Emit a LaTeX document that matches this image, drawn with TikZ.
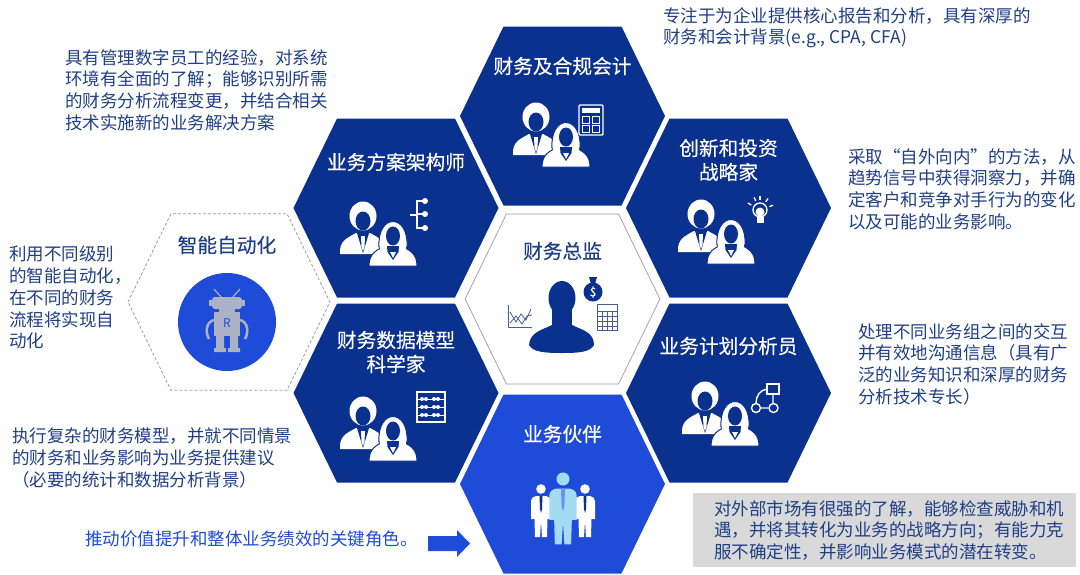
\documentclass[tikz,border=0pt]{standalone}
\usepackage{fontspec}
\setmainfont{Noto Sans CJK SC}
\newfontfamily\titlefont[FakeBold=0.25]{Noto Sans CJK SC}
\usetikzlibrary{positioning}
\definecolor{cellNavy}{HTML}{0B318F}
\definecolor{cellBlue}{HTML}{1E4BD8}
\definecolor{noteInk}{HTML}{1F3F86}
\definecolor{noteGrey}{HTML}{D9D9D9}
\definecolor{frameGrey}{HTML}{9A9AA8}
\definecolor{robotGrey}{HTML}{ABB2C6}
\definecolor{suitLight}{HTML}{A3DCF2}
\definecolor{chartInk}{HTML}{4A5F8E}
\tikzset{
  note/.style={anchor=north west,inner sep=0pt,text=noteInk,align=left,font=\fontsize{17.5}{21.7}\selectfont},
  celltitle/.style={inner sep=0pt,text=white,align=center,font=\titlefont\fontsize{19.7}{24}\selectfont},
  darktitle/.style={celltitle,text=noteInk},
  pics/hexcell/.style={code={
    \path[pic actions] (-102.5,0) -- (-59,-89.5) -- (59,-89.5) -- (102.5,0) -- (59,89.5) -- (-59,89.5) -- cycle;
  }},
  pics/staffpair/.style={code={
    % man
    \fill[white] (0,-1) ellipse (13.5 and 14.5);
    \fill[cellNavy] (0,4) ellipse (7.5 and 9.5);
    \fill[white] (-23,37) .. controls (-24,24) and (-16,21) .. (-7,16) -- (7,16) .. controls (16,21) and (24,24) .. (23,37) -- cycle;
    \fill[cellNavy] (-6,16) -- (6,16) -- (0,36) -- cycle;
    \fill[white] (-2,19) -- (2,19) -- (1.5,30) -- (0,34) -- (-1.5,30) -- cycle;
    % woman
    \begin{scope}[shift={(30,16)}]
      \filldraw[white,draw=cellNavy,line width=1pt] (-14,14) .. controls (-16,-20) and (16,-20) .. (14,14) -- cycle;
      \filldraw[white,draw=cellNavy,line width=1pt] (-24,33) .. controls (-24,20) and (-16,17) .. (-8,13) -- (8,13) .. controls (16,17) and (24,20) .. (24,33) -- cycle;
      \fill[white] (-13,6) rectangle (13,16);
      \fill[cellNavy] (0,3) ellipse (7 and 9.5);
      \fill[cellNavy] (-6,13) -- (6,13) -- (5.5,19) -- (0,27) -- (-5.5,19) -- cycle;
      \fill[white] (-3,19) -- (3,19) -- (0,25) -- cycle;
    \end{scope}
  }},
  pics/suit/.style={code={
    \fill[pic actions] (0,0) circle (4.8);
    \fill[pic actions] (-10,12) .. controls (-10,9) and (-8,8) .. (-5,7) -- (5,7) .. controls (8,8) and (10,9) .. (10,12) -- (10,30) -- (6.5,30) -- (6,48) -- (1,48) -- (0,32) -- (-1,48) -- (-6,48) -- (-6.5,30) -- (-10,30) -- cycle;
    \fill[suit tie] (-1.5,7) -- (1.5,7) -- (1,20) -- (0,24) -- (-1,20) -- cycle;
  }},
  suit tie/.style={cellNavy},
}
\begin{document}
\begin{tikzpicture}[x=1pt,y=-1pt]
\useasboundingbox (0,0) rectangle (1080,574);
% the six cells
\foreach \cellname/\cx/\cy/\cellcol in {
  complianceCell/562.5/116/cellNavy,
  architectCell/396/208/cellNavy,
  strategyCell/728.5/208/cellNavy,
  scientistCell/396/393/cellNavy,
  plannerCell/728.5/393/cellNavy,
  partnerCell/562.5/484/cellBlue} {
  \coordinate (\cellname) at (\cx,\cy);
  \pic[fill=\cellcol] at (\cellname) {hexcell};
}
\coordinate (cfoCell) at (562.5,299);
\coordinate (autoCell) at (229,302);
\pic[draw=frameGrey,line width=.7pt,scale=.95] at (cfoCell) {hexcell};
\pic[draw=frameGrey,densely dashed,line width=.8pt,scale=.985] at (autoCell) {hexcell};

% cell titles
\node[celltitle] (complianceTitle) at ([yshift=50]complianceCell) {财务及合规会计};
\node[celltitle] (architectTitle) at ([yshift=46]architectCell) {业务方案架构师};
\node[celltitle] (strategyTitle) at ([yshift=48]strategyCell) {创新和投资\\战略家};
\node[celltitle] (scientistTitle) at ([yshift=41]scientistCell) {财务数据模型\\科学家};
\node[celltitle] (plannerTitle) at ([yshift=47]plannerCell) {业务计划分析员};
\node[celltitle] (partnerTitle) at ([yshift=50]partnerCell) {业务伙伴};
\node[darktitle] (cfoTitle) at ([yshift=48]cfoCell) {财务总监};
\node[darktitle] (autoTitle) at (227,245) {智能自动化};

% staff icons
\pic at (536,118) {staffpair};
\pic at (363,217) {staffpair};
\pic at (701,215) {staffpair};
\pic at (363,412) {staffpair};
\pic at (705,397) {staffpair};

% calculator
\draw[white,line width=1.4pt,rounded corners=1pt] (579,105) rectangle (603,135);
\fill[white] (582,108) rectangle (600,113);
\foreach \kx in {582,592} \foreach \ky in {116,125}
  \draw[white,line width=1pt] (\kx,\ky) rectangle ++(7.5,7);
% tree
\draw[white,line width=1.5pt] (410,215) -- (417,215) (425,201) -- (417,201) -- (417,228) -- (425,228) (417,214) -- (425,214);
\foreach \ky in {201,214,228} \fill[white] (425,\ky) circle (3);
% bulb
\draw[white,line width=1.3pt] (760,210) circle (7);
\fill[white] (760,212) circle (4.5);
\fill[white] (756.5,217) rectangle (763.5,223);
\foreach \a in {-150,-115,-90,-55,-20}
  \draw[white,line width=1.3pt] (760,210) ++(\a:10) -- ++(\a:4);
% abacus
\draw[white,line width=1.2pt] (417,392) rectangle (445,422);
\foreach \ky in {399,407,415} {
  \draw[white] (417,\ky) -- (445,\ky);
  \foreach \kx in {422,426,434,438} \fill[white] (\kx,\ky) circle (2);
}
% flow chart
\draw[white,line width=1.4pt] (767,384) rectangle (779,394);
\draw[white,line width=1.4pt] (767,389) .. controls (760,390) and (756,396) .. (756,403) (773,394) -- (773,403) (761,408) -- (768,408);
\draw[white,line width=1.4pt] (756,408) circle (4.5) (773.5,408) circle (4.5);

% bust and tools in the middle
\fill[cellNavy] (562,298) ellipse (13.5 and 17);
\fill[cellNavy] (552,305) rectangle (572,330);
\fill[cellNavy] (529,345) .. controls (530,332) and (542,330) .. (552,325) -- (572,325) .. controls (582,330) and (594,332) .. (594,345) .. controls (590,352) and (580,353) .. (562,353) .. controls (544,353) and (533,352) .. (529,345) -- cycle;
\fill[cellNavy] (593,292) circle (9.5);
\fill[cellNavy] (589,277) -- (597,277) -- (595,284) -- (591,284) -- cycle;
\node[text=white,inner sep=0pt,font=\titlefont\fontsize{12}{12}\selectfont] (moneySign) at (593,292) {\$};
\draw[chartInk,line width=1pt] (597,304) rectangle (617,330);
\draw[chartInk,line width=1pt] (597,311) -- (617,311);
\foreach \ky in {316,321,326} \draw[chartInk] (597,\ky) -- (617,\ky);
\foreach \kx in {602,607,612} \draw[chartInk] (\kx,311) -- (\kx,330);
\draw[chartInk,line width=.8pt] (508,305) -- (508,327) -- (532,327);
\draw[chartInk,line width=.8pt] (510,312) -- (516,322) -- (521,314) -- (526,320) -- (531,309);
\draw[chartInk,line width=.8pt] (510,323) -- (516,316) -- (522,324) -- (527,316) -- (532,315);

% team
\pic[fill=white] at (541,489) {suit};
\pic[fill=white] at (585,489) {suit};
\pic[fill=suitLight,scale=1.36,suit tie/.style={blue!35!suitLight}] at (563,479) {suit};

% robot
\fill[cellBlue] (227,322) circle (49);
\draw[robotGrey,line width=1.2pt] (222,298) -- (214,289) (232,298) -- (240,289);
\fill[robotGrey] (209,300) rectangle (245,306);
\fill[robotGrey,rounded corners=3pt] (212,297) rectangle (242,309);
\fill[robotGrey] (214,312) rectangle (240,336);
\fill[robotGrey] (219,309) rectangle (235,312);
\fill[robotGrey] (216,336) rectangle (224,350) (230,336) rectangle (238,350);
\fill[robotGrey] (214,348) rectangle (226,352) (228,348) rectangle (240,352);
\draw[robotGrey,line width=2.5pt] (214,320) .. controls (206,322) and (205,332) .. (209,339) (240,320) .. controls (248,322) and (249,332) .. (245,339);
\node[text=cellBlue,inner sep=0pt,font=\fontsize{12}{12}\selectfont] (robotLetter) at (227,323) {R};

% notes
\node[note] (complianceNote) at (663,7) {专注于为企业提供核心报告和分析^^^^ff0c具有深厚的\\财务和会计背景(e.g., CPA, CFA)};
\node[note] (architectNote) at (65,49) {具有管理数字员工的经验^^^^ff0c对系统\\环境有全面的了解^^^^ff1b能够识别所需\\的财务分析流程变更^^^^ff0c并结合相关\\技术实施新的业务解决方案};
\node[note] (strategyNote) at (848,148) {采取“自外向内”的方法^^^^ff0c从\\趋势信号中获得洞察力^^^^ff0c并确\\定客户和竞争对手行为的变化\\以及可能的业务影响。};
\node[note] (autoNote) at (9,246) {利用不同级别\\的智能自动化^^^^ff0c\\在不同的财务\\流程将实现自\\动化};
\node[note] (plannerNote) at (858,323) {处理不同业务组之间的交互\\并有效地沟通信息^^^^ff08具有广\\泛的业务知识和深厚的财务\\分析技术专长^^^^ff09};
\node[note] (scientistNote) at (12,428) {执行复杂的财务模型^^^^ff0c并就不同情景\\的财务和业务影响为业务提供建议\\^^^^ff08必要的统计和数据分析背景^^^^ff09};
\node[note,text=cellBlue] (valueNote) at (85,531) {推动价值提升和整体业务绩效的关键角色。};
\fill[cellBlue] (428,536) -- (457,536) -- (457,530) -- (470,543.5) -- (457,557) -- (457,551) -- (428,551) -- cycle;
\fill[noteGrey] (693,493) rectangle (1076,567);
\node[note] (partnerNote) at (714,500) {对外部市场有很强的了解^^^^ff0c能够检查威胁和机\\遇^^^^ff0c并将其转化为业务的战略方向^^^^ff1b有能力克\\服不确定性^^^^ff0c并影响业务模式的潜在转变。};
\end{tikzpicture}
\end{document}
